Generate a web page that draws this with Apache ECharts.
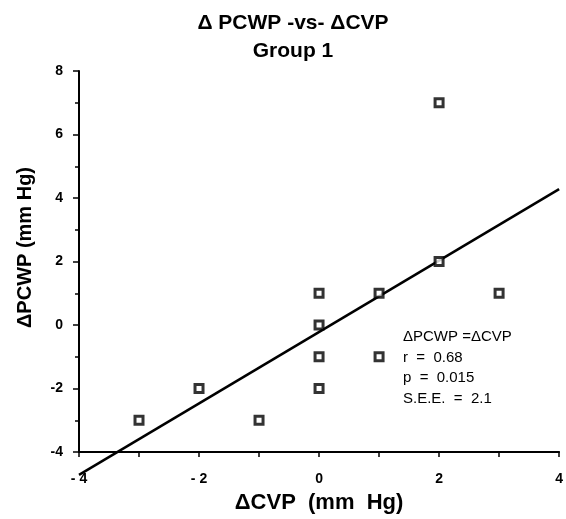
<!DOCTYPE html>
<html>
<head>
<meta charset="utf-8">
<script src="https://cdn.jsdelivr.net/npm/echarts@6/dist/echarts.min.js"></script>
<style>
  html, body { margin: 0; padding: 0; background: #fff; }
  #chart { width: 566px; height: 519px; }
</style>
</head>
<body>
<div id="chart"></div>
<script>
// 数据：ΔCVP 和 ΔPCWP
var cvp = [-3, -2, -1, 0, 0, 0, 0, 1, 1, 2, 2, 3]
var pcwp = [-3, -2, -3, 1, 0, -1, -2, 1, -1, 7, 2, 1]
// 回归线两端
var fitX = [-4, 4]
var fitY = [-4.72, 4.28]
var xTicks = { '-4': '- 4', '-2': '- 2', '0': '0', '2': '2', '4': '4' }
var statLines = ['\u0394PCWP =\u0394CVP', 'r  =  0.68', 'p  =  0.015', 'S.E.E.  =  2.1']

var font = '"Liberation Sans", Arial, sans-serif'
var chart = echarts.init(document.getElementById('chart'))

var points = cvp.map(function (x, i) { return [x, pcwp[i]] })
var fitLine = fitX.map(function (x, i) { return [x, fitY[i]] })

var option = {
  backgroundColor: '#fff',
  animation: false,
  title: {
    text: '\u0394 PCWP -vs- \u0394CVP\nGroup 1',
    left: 288,
    top: 4,
    textAlign: 'center',
    textStyle: { fontFamily: font, fontSize: 21, fontWeight: 'bold', color: '#000', lineHeight: 28 }
  },
  grid: { left: 79, right: 6, top: 71, bottom: 67 },
  xAxis: {
    type: 'value',
    min: -4, max: 4, interval: 2,
    name: '\u0394CVP  (mm  Hg)',
    nameLocation: 'middle',
    nameGap: 40,
    nameTextStyle: { fontFamily: font, fontSize: 22, fontWeight: 'bold', color: '#000' },
    axisLine: { onZero: false, lineStyle: { color: '#000', width: 2 } },
    axisTick: { show: true, length: 5, lineStyle: { color: '#000', width: 1.5 } },
    minorTick: { show: true, splitNumber: 2, length: 5, lineStyle: { color: '#000', width: 1.5 } },
    splitLine: { show: false },
    axisLabel: {
      fontFamily: font, fontSize: 14, fontWeight: 'bold', color: '#000', margin: 20,
      formatter: function (v) { return xTicks[String(v)] }
    }
  },
  yAxis: {
    type: 'value',
    min: -4, max: 8, interval: 2,
    name: '\u0394PCWP (mm Hg)',
    nameLocation: 'middle',
    nameGap: 44,
    nameTextStyle: { fontFamily: font, fontSize: 20, fontWeight: 'bold', color: '#000', padding: [0, 0, 0, 28] },
    axisLine: { onZero: false, lineStyle: { color: '#000', width: 2 } },
    axisTick: { show: true, length: 6, lineStyle: { color: '#000', width: 1.5 } },
    minorTick: { show: true, splitNumber: 2, length: 4, lineStyle: { color: '#000', width: 1.5 } },
    splitLine: { show: false },
    axisLabel: { fontFamily: font, fontSize: 14, fontWeight: 'bold', color: '#000', margin: 16 }
  },
  series: [
    {
      type: 'line',
      data: fitLine,
      clip: false,
      symbol: 'none',
      lineStyle: { color: '#000', width: 2.5 },
      z: 2
    },
    {
      type: 'scatter',
      data: points,
      symbol: 'rect',
      symbolSize: 8,
      itemStyle: { color: '#fff', borderColor: '#000', borderWidth: 3 },
      z: 3
    }
  ],
  graphic: [
    {
      type: 'text',
      left: 403,
      top: 327,
      style: {
        text: statLines.join('\n'),
        font: '15px ' + font,
        fill: '#000',
        lineHeight: 20.5
      }
    }
  ]
}

chart.setOption(option)
</script>
</body>
</html>
